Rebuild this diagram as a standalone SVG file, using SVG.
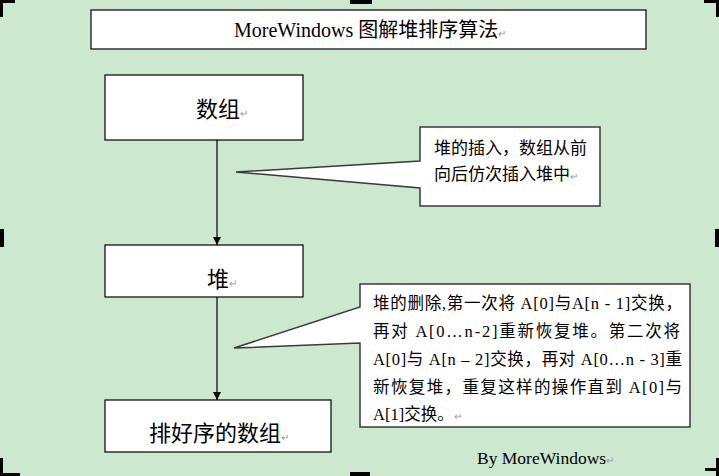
<svg xmlns="http://www.w3.org/2000/svg" width="719" height="476" viewBox="0 0 719 476">
<defs>
<style>
.bg{fill:#CCE8CF}
.box{fill:#fff;stroke:#000;stroke-width:1.2}
.call{fill:#fff;stroke:#3a3a3a;stroke-width:1.5}
.t{font-family:"Liberation Serif","Noto Sans CJK SC",serif;fill:#000}
.pm{fill:#999;font-size:10px}
.h{fill:#000}
.conn{stroke:#000;stroke-width:1.2;fill:none}
</style>
<marker id="arr" viewBox="0 0 10 10" refX="10" refY="5" markerWidth="8" markerHeight="8" markerUnits="userSpaceOnUse" orient="auto">
<path d="M0,0 L10,5 L0,10 z" fill="#000"/>
</marker>
</defs>
<rect class="bg" x="0" y="0" width="719" height="476"/>
<g id="handles">
<rect class="h" x="0" y="0" width="15" height="3"/><rect class="h" x="0" y="0" width="3" height="17"/>
<rect class="h" x="350" y="0" width="22" height="4"/>
<rect class="h" x="704" y="0" width="15" height="3"/><rect class="h" x="716" y="0" width="3" height="17"/>
<rect class="h" x="0" y="229" width="4" height="18"/>
<rect class="h" x="715" y="229" width="4" height="18"/>
<rect class="h" x="0" y="458" width="3" height="18"/><rect class="h" x="0" y="473" width="20" height="3"/>
<rect class="h" x="350" y="472" width="20" height="4"/>
<rect class="h" x="705" y="468" width="14" height="3"/><rect class="h" x="716" y="458" width="3" height="18"/>
</g>
<g id="title">
<rect class="box" x="91" y="10" width="555" height="39"/>
<text class="t" x="234" y="37" font-size="20">MoreWindows 图解堆排序算法<tspan class="pm">↵</tspan></text>
</g>
<g id="connectors">
<line class="conn" x1="217" y1="140" x2="217" y2="245" marker-end="url(#arr)"/>
<line class="conn" x1="217" y1="297" x2="217" y2="400" marker-end="url(#arr)"/>
</g>
<g id="node-array">
<rect class="box" x="105" y="75" width="198" height="65"/>
<text class="t" x="196" y="117" font-size="22">数组<tspan class="pm">↵</tspan></text>
</g>
<g id="node-heap">
<rect class="box" x="105" y="245" width="198" height="52"/>
<text class="t" x="207" y="287" font-size="22">堆<tspan class="pm">↵</tspan></text>
</g>
<g id="node-sorted">
<rect class="box" x="105" y="400" width="226" height="52"/>
<text class="t" x="149" y="441" font-size="22">排好序的数组<tspan class="pm">↵</tspan></text>
</g>
<g id="callout-insert">
<path class="call" d="M420,127 H600 V206 H420 V188 L236,172 L420,161 Z"/>
<text class="t" font-size="17"><tspan x="434" y="154">堆的插入，数组从前</tspan><tspan x="434" y="180">向后仿次插入堆中</tspan><tspan class="pm">↵</tspan></text>
</g>
<g id="callout-delete">
<path class="call" d="M360,284 H690 V427 H360 V343 L234,348 L360,307 Z"/>
<text class="t" font-size="16.5" x="373" y="309" textLength="309" lengthAdjust="spacing">堆的删除,第一次将 A[0]与A[n - 1]交换，</text>
<text class="t" font-size="16.5" x="373" y="337" textLength="307" lengthAdjust="spacing">再对  A[0…n-2]重新恢复堆。第二次将</text>
<text class="t" font-size="16.5" x="373" y="365" textLength="309" lengthAdjust="spacing">A[0]与 A[n – 2]交换，再对 A[0…n - 3]重</text>
<text class="t" font-size="16.5" x="373" y="393" textLength="309" lengthAdjust="spacing">新恢复堆，重复这样的操作直到  A[0]与</text>
<text class="t" font-size="16.5" x="373" y="420">A[1]交换。<tspan class="pm">↵</tspan></text>
</g>
<g id="signature">
<text class="t" x="477" y="464" font-size="17.5">By MoreWindows<tspan class="pm">↵</tspan></text>
</g>
</svg>
